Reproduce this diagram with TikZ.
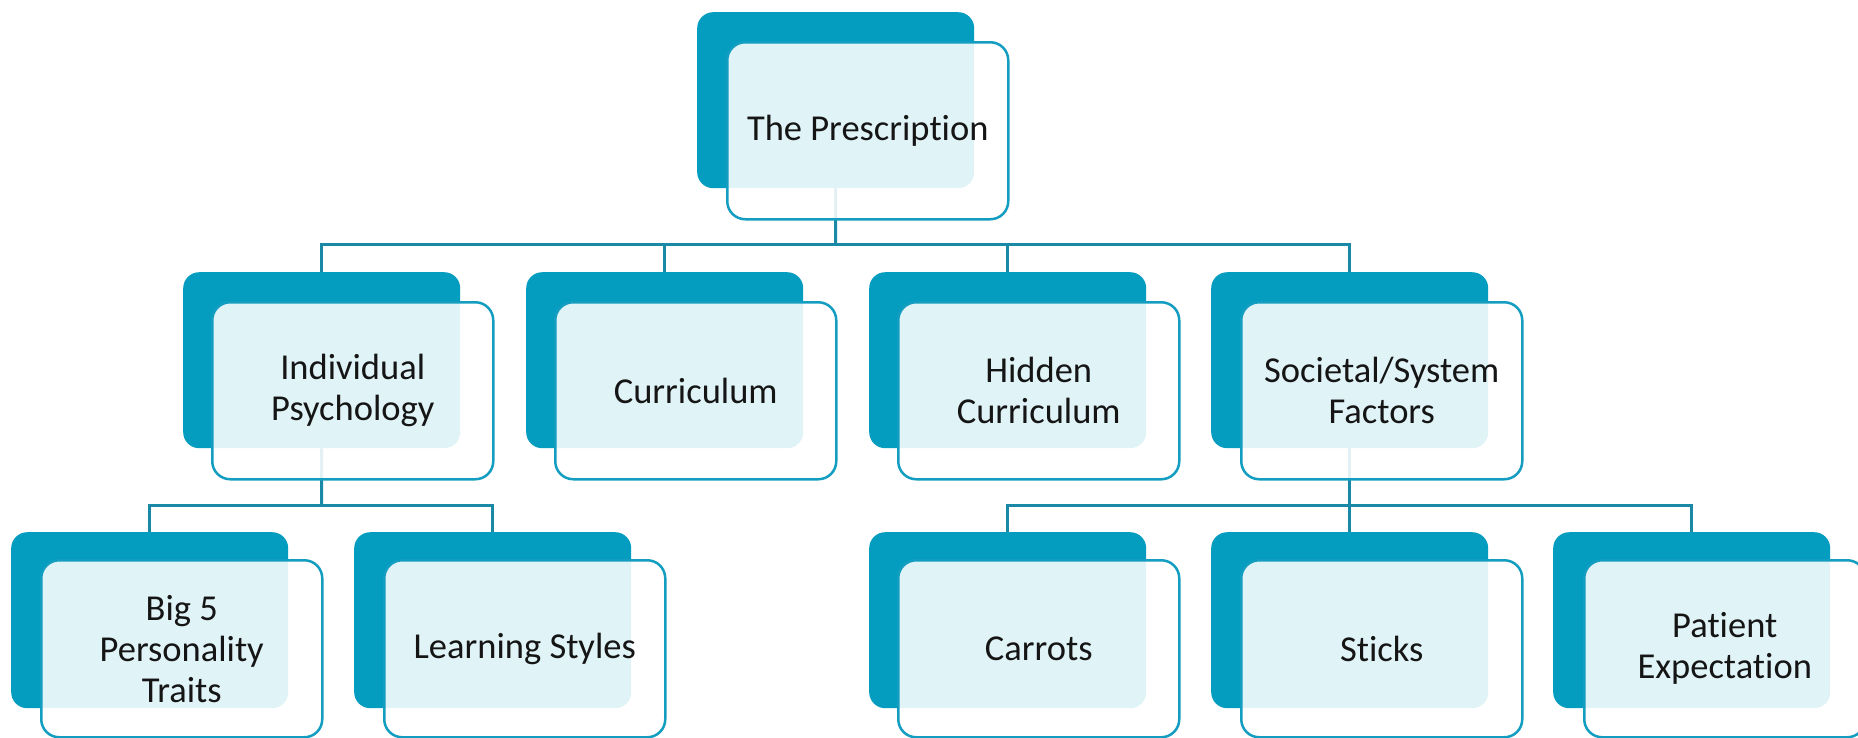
\documentclass[tikz,border=0pt]{standalone}
\usepackage{fontspec}
\setmainfont[Ligatures={NoCommon}]{Carlito}
\definecolor{tealA}{HTML}{049DC0}
\definecolor{lineC}{HTML}{1A89A6}
\definecolor{edgeC}{HTML}{139DC0}
\definecolor{txtC}{HTML}{151515}
\tikzset{
  backbox/.style={fill=tealA, rounded corners=16pt, minimum width=277pt, minimum height=176pt, anchor=north west, inner sep=0pt},
  frontbox/.style={draw=edgeC, line width=2.5pt, fill=white, fill opacity=0.88, text opacity=1, rounded corners=18pt, minimum width=281pt, minimum height=177pt, anchor=north west, align=center, font=\fontsize{36.5}{41}\selectfont, text=txtC, inner sep=0pt},
  conn/.style={draw=lineC, line width=3pt}
}
\begin{document}
\begin{tikzpicture}[x=1pt,y=-1pt]
\fill[white] (0,0) rectangle (1858,737);
\useasboundingbox (0,0) rectangle (1858,737);
% back boxes
\node[backbox] (b0) at (697,12) {};
\node[backbox] (b1) at (183,272) {};
\node[backbox] (b2) at (526,272) {};
\node[backbox] (b3) at (869,272) {};
\node[backbox] (b4) at (1211,272) {};
\node[backbox] (c1) at (11,532) {};
\node[backbox] (c2) at (354,532) {};
\node[backbox] (c3) at (869,532) {};
\node[backbox] (c4) at (1211,532) {};
\node[backbox] (c5) at (1553,532) {};
% connectors
\coordinate (busA) at (835.5,244);
\coordinate (busB) at (321.5,505);
\coordinate (busC) at (1349.5,505);
\draw[conn] (b0.south) -- (busA);
\draw[conn] (b1.north) |- (busA);
\draw[conn] (b4.north) |- (busA);
\draw[conn] (b2.north) -- (b2.north |- busA);
\draw[conn] (b3.north) -- (b3.north |- busA);
\draw[conn] (b1.south) -- (busB);
\draw[conn] (c1.north) |- (busB);
\draw[conn] (c2.north) |- (busB);
\draw[conn] (b4.south) -- (c4.north);
\draw[conn] (c3.north) |- (busC);
\draw[conn] (c5.north) |- (busC);
% front boxes
\node[frontbox] (f0) at (726,41) {The Prescription};
\node[frontbox] (f1) at (211,301) {Individual\\Psychology};
\node[frontbox] (f2) at (554,301) {Curriculum};
\node[frontbox] (f3) at (897,301) {Hidden\\Curriculum};
\node[frontbox] (f4) at (1240,301) {Societal/System\\Factors};
\node[frontbox] (g1) at (40,559) {Big 5\\Personality\\Traits};
\node[frontbox] (g2) at (383,559) {Learning Styles};
\node[frontbox] (g3) at (897,559) {Carrots};
\node[frontbox] (g4) at (1240,559) {Sticks};
\node[frontbox] (g5) at (1583,559) {Patient\\Expectation};
\end{tikzpicture}
\end{document}
